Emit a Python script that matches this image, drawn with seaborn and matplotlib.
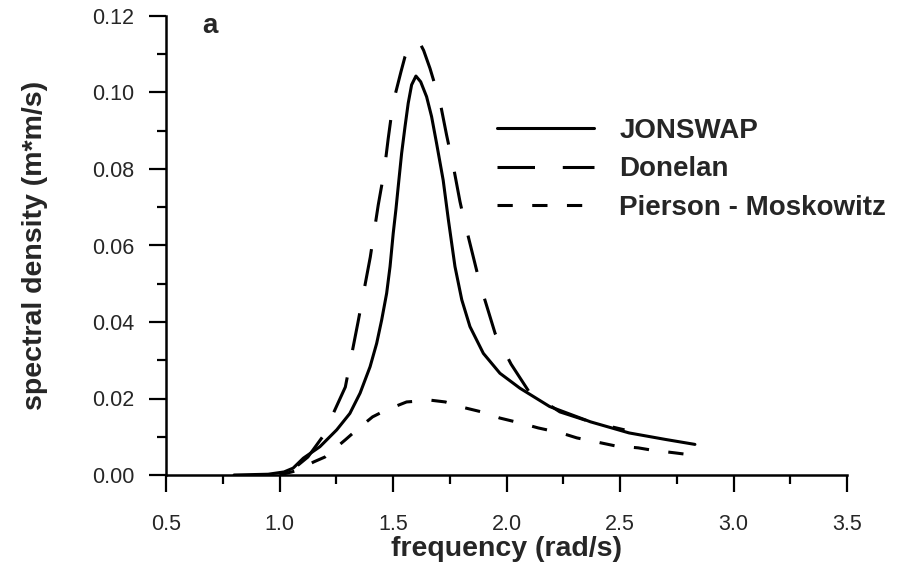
import matplotlib
matplotlib.use("Agg")
import matplotlib.pyplot as plt
import seaborn as sns
from matplotlib.ticker import MultipleLocator, FormatStrFormatter

# ---- data ----
jon_x = [0.80, 0.95, 1.02, 1.06, 1.105, 1.178, 1.252, 1.31, 1.355, 1.399, 1.428, 1.45,
         1.472, 1.487, 1.501, 1.513, 1.523, 1.538, 1.553, 1.567, 1.582, 1.601, 1.622,
         1.648, 1.670, 1.692, 1.721, 1.744, 1.773, 1.803, 1.839, 1.898, 1.971, 2.059,
         2.19, 2.37, 2.54, 2.70, 2.83]
jon_y = [0.0, 0.0002, 0.0008, 0.0018, 0.0044, 0.0074, 0.0118, 0.0161, 0.0214, 0.0283,
         0.0344, 0.0405, 0.0475, 0.0545, 0.0632, 0.0695, 0.0754, 0.0841, 0.0911, 0.0972,
         0.1020, 0.1043, 0.1028, 0.0989, 0.0937, 0.0867, 0.0771, 0.0667, 0.0545, 0.0458,
         0.0388, 0.0318, 0.0266, 0.0227, 0.0179, 0.0139, 0.0110, 0.0093, 0.0080]

don_x = [1.08, 1.125, 1.19, 1.29, 1.346, 1.40, 1.435, 1.461, 1.479, 1.50, 1.535, 1.553,
         1.575, 1.597, 1.615, 1.635, 1.663, 1.707, 1.736, 1.769, 1.795, 1.81, 1.883,
         1.95, 2.02, 2.10, 2.235, 2.37, 2.52]
don_y = [0.0025, 0.0047, 0.010, 0.023, 0.040, 0.057, 0.0706, 0.0793, 0.088, 0.0972,
         0.1054, 0.1094, 0.1124, 0.1135, 0.1133, 0.111, 0.1063, 0.0976, 0.0889, 0.0797,
         0.0715, 0.0675, 0.050, 0.037, 0.029, 0.0217, 0.0165, 0.0139, 0.0118]

pm_x = [1.00, 1.08, 1.15, 1.20, 1.29, 1.34, 1.41, 1.47, 1.56, 1.63, 1.66, 1.73, 1.80,
        1.89, 1.97, 2.06, 2.14, 2.24, 2.31, 2.40, 2.48, 2.58, 2.64, 2.74, 2.82]
pm_y = [0.0, 0.0012, 0.0034, 0.0047, 0.0092, 0.0118, 0.0152, 0.0170, 0.0191, 0.0194,
        0.0196, 0.0191, 0.0178, 0.0165, 0.0149, 0.0136, 0.0123, 0.0110, 0.0097,
        0.0086, 0.0076, 0.0071, 0.0065, 0.0058, 0.0052]

labels = ["JONSWAP", "Donelan", "Pierson - Moskowitz"]
x_ticks = [0.5, 1.0, 1.5, 2.0, 2.5, 3.0, 3.5]
y_ticks = [0.00, 0.02, 0.04, 0.06, 0.08, 0.10, 0.12]

# ---- styling ----
sns.set_style("ticks")
plt.rcParams["font.family"] = ["Liberation Sans", "DejaVu Sans"]
plt.rcParams["lines.scale_dashes"] = False

W, H = 897, 567
fig = plt.figure(figsize=(W / 100, H / 100), dpi=100)
ax_l, ax_r, ax_t, ax_b = 166, 847, 16, 475
ax = fig.add_axes([ax_l / W, 1 - ax_b / H, (ax_r - ax_l) / W, (ax_b - ax_t) / H])

lw = 2.2
sns.lineplot(x=jon_x, y=jon_y, ax=ax, color="black", lw=lw, linestyle="-",
             label=labels[0], sort=False)
sns.lineplot(x=don_x, y=don_y, ax=ax, color="black", lw=lw, linestyle=(0, (27, 20)),
             label=labels[1], sort=False)
sns.lineplot(x=pm_x, y=pm_y, ax=ax, color="black", lw=lw, linestyle=(0, (11, 14)),
             label=labels[2], sort=False)

ax.set_xlim(0.5, 3.5)
ax.set_ylim(0.0, 0.12)
ax.set_xticks(x_ticks)
ax.set_yticks(y_ticks)
ax.xaxis.set_minor_locator(MultipleLocator(0.25))
ax.yaxis.set_minor_locator(MultipleLocator(0.01))
ax.xaxis.set_major_formatter(FormatStrFormatter("%.1f"))
ax.yaxis.set_major_formatter(FormatStrFormatter("%.2f"))
ax.tick_params(which="major", length=12, width=1.6, labelsize=15.5, color="black")
ax.tick_params(which="minor", length=6.5, width=1.6, color="black")
ax.tick_params(axis="x", which="major", pad=16)
ax.tick_params(axis="y", which="major", pad=11)
for s in ["left", "bottom"]:
    ax.spines[s].set_linewidth(1.8)
    ax.spines[s].set_color("black")
sns.despine(ax=ax)

ax.set_xlabel("frequency (rad/s)", fontsize=20.5, fontweight="bold")
ax.set_ylabel("spectral density (m*m/s)", fontsize=20.5, fontweight="bold")
ax.xaxis.set_label_coords(0.5, -(536 - ax_b) / (ax_b - ax_t))
ax.yaxis.set_label_coords(-(ax_l - 48) / (ax_r - ax_l), 0.5)

ax.text((202 - ax_l) / (ax_r - ax_l), (ax_b - 33) / (ax_b - ax_t), "a",
        transform=ax.transAxes, fontsize=20, fontweight="bold",
        va="baseline", ha="left")

leg = ax.legend(loc="center left", bbox_to_anchor=((497 - ax_l) / (ax_r - ax_l), 0.666),
                frameon=False, prop={"size": 20, "weight": "bold"}, handlelength=3.5,
                handletextpad=0.9, labelspacing=0.46, borderpad=0, borderaxespad=0)

fig.savefig("out.png", dpi=100, facecolor="white")
